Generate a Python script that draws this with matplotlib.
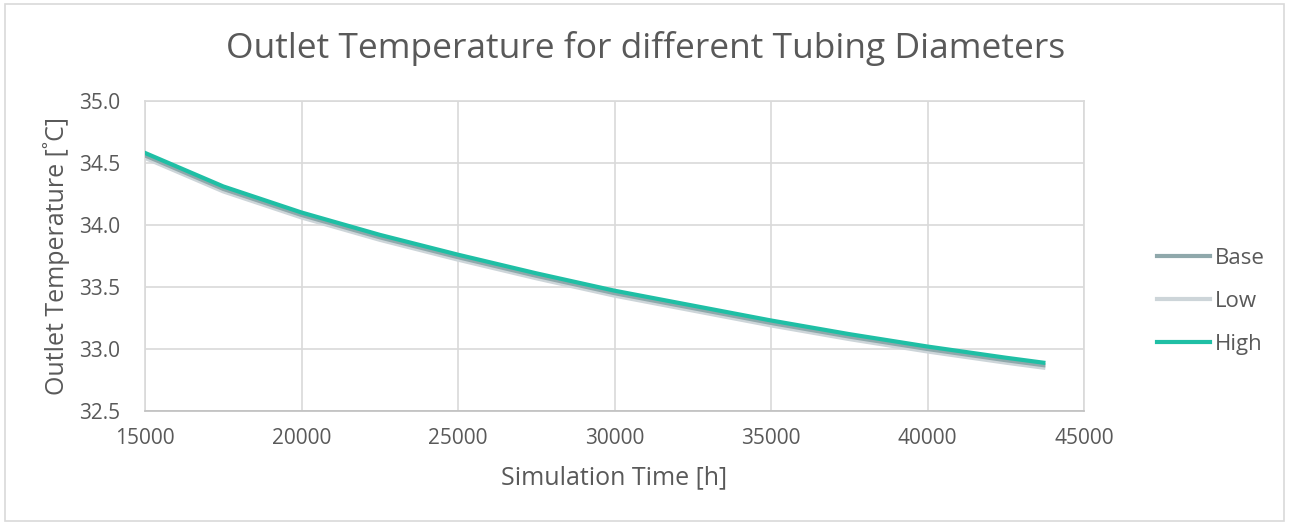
import numpy as np
import matplotlib.pyplot as plt
from matplotlib.patches import Rectangle

plt.rcParams['font.family'] = ['Open Sans', 'DejaVu Sans']

time_h = [15000, 17500, 20000, 22500, 25000, 27500, 30000, 32500,
          35000, 37500, 40000, 42500, 43700]
high = [34.58, 34.31, 34.10, 33.92, 33.76, 33.61, 33.47, 33.35,
        33.23, 33.12, 33.02, 32.93, 32.89]
base = [34.56, 34.29, 34.08, 33.90, 33.74, 33.59, 33.45, 33.33,
        33.21, 33.10, 33.00, 32.91, 32.87]
low = [34.54, 34.27, 34.06, 33.88, 33.72, 33.57, 33.43, 33.31,
       33.19, 33.08, 32.98, 32.89, 32.85]

text_c = '#595959'
grid_c = '#d9d9d9'

fig = plt.figure(figsize=(12.89, 5.25), dpi=100)
ax = fig.add_axes([0.1125, 0.217, 0.7285, 0.591])

ax.plot(time_h, low, color='#cdd5d9', lw=3.0, label='Low', zorder=2)
ax.plot(time_h, base, color='#8fa8ab', lw=3.0, label='Base', zorder=3)
ax.plot(time_h, high, color='#1fbfa5', lw=3.0, label='High', zorder=4)

ax.set_xlim(15000, 45000)
ax.set_ylim(32.5, 35.0)
ax.set_xticks(np.arange(15000, 45001, 5000))
ax.set_yticks(np.arange(32.5, 35.01, 0.5))
ax.yaxis.set_major_formatter(plt.FormatStrFormatter('%.1f'))
ax.grid(True, color=grid_c, lw=1.2)
ax.set_axisbelow(True)
for s in ax.spines.values():
    s.set_color(grid_c)
    s.set_linewidth(1.2)
ax.spines['bottom'].set_color('#bfbfbf')
ax.tick_params(length=0, labelsize=15, colors=text_c)
ax.tick_params(axis='y', pad=18)
ax.tick_params(axis='x', pad=12)

ax.set_xlabel('Simulation Time [h]', fontsize=18, color=text_c, labelpad=12)
ax.set_ylabel('Outlet Temperature [˚C]', fontsize=18, color=text_c, labelpad=6)
fig.text(0.501, 0.907, 'Outlet Temperature for different Tubing Diameters',
         ha='center', va='center', fontsize=25.5, color=text_c)

handles, labels = ax.get_legend_handles_labels()
order = [1, 0, 2]
leg = fig.legend([handles[i] for i in order], [labels[i] for i in order],
                 loc='center left', bbox_to_anchor=(0.882, 0.426), frameon=False,
                 fontsize=16, labelcolor=text_c, handlelength=2.4,
                 handletextpad=0.2, labelspacing=1.0)

fig.patches.append(Rectangle((0.004, 0.008), 0.992, 0.984, transform=fig.transFigure,
                             fill=False, edgecolor=grid_c, lw=1.2))

fig.savefig('out.png', dpi=100, facecolor='white')
